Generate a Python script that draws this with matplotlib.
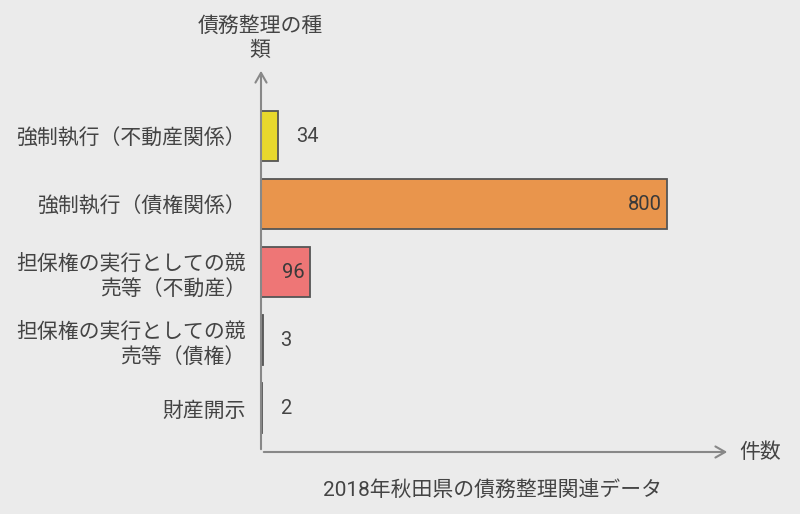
import matplotlib
matplotlib.use("Agg")
import matplotlib.pyplot as plt

plt.rcParams['font.family'] = ['Roboto', 'Noto Sans CJK JP', 'DejaVu Sans']

categories = ["強制執行（不動産関係）", "強制執行（債権関係）", "担保権の実行としての競\n売等（不動産）",
              "担保権の実行としての競\n売等（債権）", "財産開示"]
values = [34, 800, 96, 3, 2]
colors = ["#e8d82c", "#e9954c", "#ee7676", "#8a8a8a", "#8a8a8a"]
title = "2018年秋田県の債務整理関連データ"
y_label = "債務整理の種\n類"
x_label = "件数"

bg = "#ebebeb"
fig = plt.figure(figsize=(8, 5.14), dpi=100, facecolor=bg)
ax = fig.add_axes([261/800, 1-452/514, 469/800, (452-68)/514])
ax.set_facecolor(bg)

pos = list(range(len(categories)))
ax.barh(pos, values, height=0.74, color=colors, edgecolor="#555555", linewidth=1.3)
ax.set_xlim(0, 924)
ax.set_ylim(4 + 44/68, -1)

for s in ax.spines.values():
    s.set_visible(False)
ax.set_xticks([])
ax.set_yticks(pos)
ax.set_yticklabels(categories, fontsize=15, color="#444444", multialignment="right",
                   family=['Noto Sans CJK JP', 'DejaVu Sans'], linespacing=1.25)
ax.tick_params(axis='y', length=0, pad=11)

for p, v in zip(pos, values):
    if v >= 90:
        ax.text(v - 10, p, str(v), ha='right', va='center', fontsize=14.5, color="#3a3a3a")
    else:
        ax.text(v + 35, p, str(v), ha='left', va='center', fontsize=14.5, color="#444444")

arrow_kw = dict(arrowstyle="->,head_length=0.7,head_width=0.4", color="#888888", lw=1.5)
ax.annotate("", xy=(1.0, 0), xytext=(0, 0), xycoords='axes fraction', arrowprops=arrow_kw, annotation_clip=False)
ax.annotate("", xy=(0, 1.0), xytext=(0, 0), xycoords='axes fraction', arrowprops=arrow_kw, annotation_clip=False)

fig.text(760/800, 1-452/514, x_label, ha='center', va='center', fontsize=15, color="#444444",
         family=['Noto Sans CJK JP', 'DejaVu Sans'])
fig.text(260/800, 1-38/514, y_label, ha='center', va='center', fontsize=15, color="#444444",
         family=['Noto Sans CJK JP', 'DejaVu Sans'], linespacing=1.1)
fig.text(493/800, 1-490/514, title, ha='center', va='center', fontsize=15, color="#444444",
         family=['Roboto', 'Noto Sans CJK JP', 'DejaVu Sans'])

fig.savefig("out.png", dpi=100, facecolor=bg)
